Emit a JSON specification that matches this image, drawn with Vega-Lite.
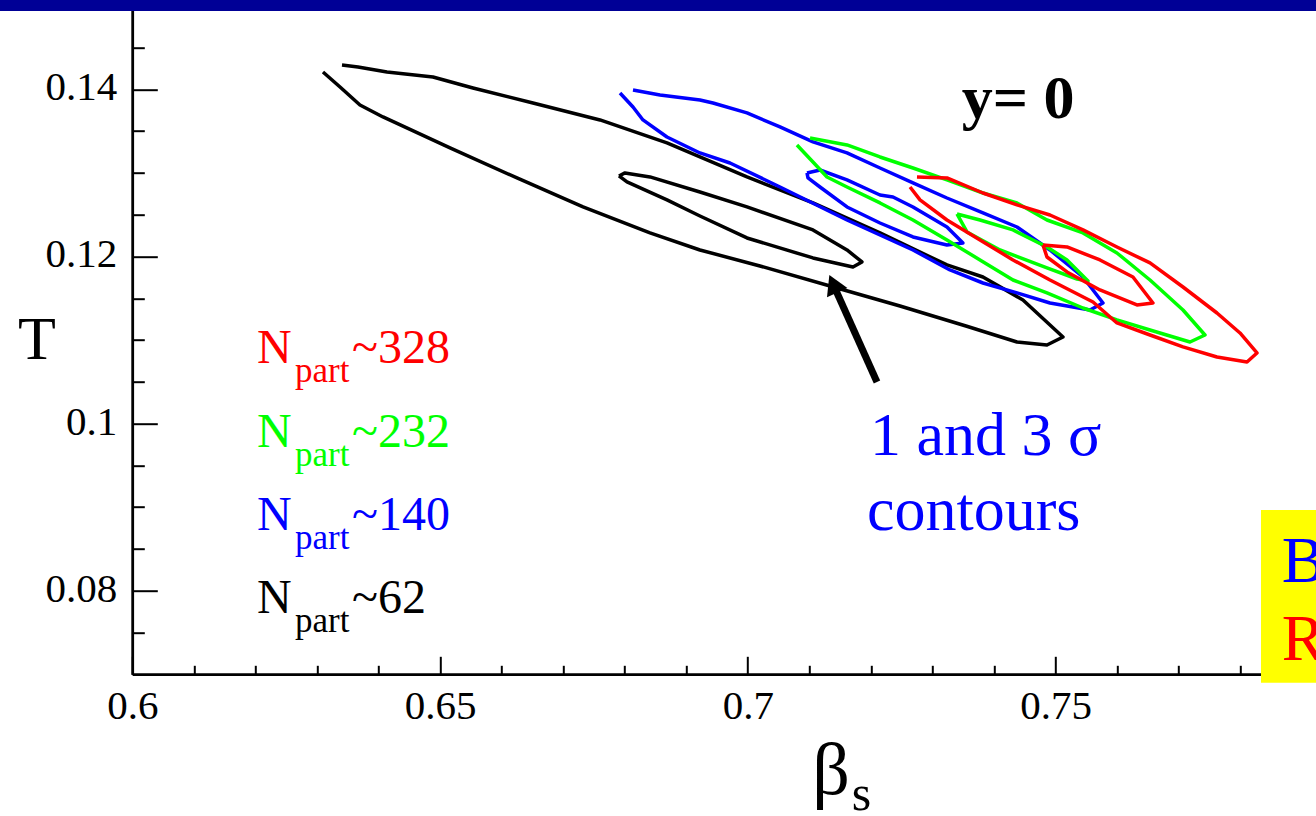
{
  "$schema": "https://vega.github.io/schema/vega-lite/v6.json",
  "width": 1183.7,
  "height": 668.6,
  "autosize": {"type": "none"},
  "padding": {"left": 132.3, "top": 5.7, "right": 0, "bottom": 141.7},
  "background": "white",
  "config": {
    "view": {"stroke": null},
    "font": "Liberation Serif",
    "axis": {
      "grid": false,
      "domainColor": "black",
      "domainWidth": 2.5,
      "tickColor": "black",
      "tickWidth": 2,
      "labelColor": "black",
      "labelFont": "Liberation Serif",
      "labelFontSize": 41,
      "titleFont": "Liberation Serif",
      "titleColor": "black",
      "titleFontWeight": "normal",
      "labelFlush": false,
      "labelOverlap": false,
      "labelBound": false
    }
  },
  "resolve": {"axis": {"x": "independent", "y": "independent"}},
  "datasets": {
    "contours": [
      {"k": "62o", "n": "62", "i": 0, "b": 0.63407, "T": 0.14291},
      {"k": "62o", "n": "62", "i": 1, "b": 0.63667, "T": 0.14267},
      {"k": "62o", "n": "62", "i": 2, "b": 0.64138, "T": 0.14207},
      {"k": "62o", "n": "62", "i": 3, "b": 0.64885, "T": 0.14147},
      {"k": "62o", "n": "62", "i": 4, "b": 0.65535, "T": 0.14016},
      {"k": "62o", "n": "62", "i": 5, "b": 0.66510, "T": 0.13836},
      {"k": "62o", "n": "62", "i": 6, "b": 0.67599, "T": 0.13633},
      {"k": "62o", "n": "62", "i": 7, "b": 0.68687, "T": 0.13358},
      {"k": "62o", "n": "62", "i": 8, "b": 0.69987, "T": 0.12951},
      {"k": "62o", "n": "62", "i": 9, "b": 0.71059, "T": 0.12640},
      {"k": "62o", "n": "62", "i": 10, "b": 0.72148, "T": 0.12281},
      {"k": "62o", "n": "62", "i": 11, "b": 0.73236, "T": 0.11898},
      {"k": "62o", "n": "62", "i": 12, "b": 0.73821, "T": 0.11754},
      {"k": "62o", "n": "62", "i": 13, "b": 0.74471, "T": 0.11479},
      {"k": "62o", "n": "62", "i": 14, "b": 0.75121, "T": 0.11036},
      {"k": "62o", "n": "62", "i": 15, "b": 0.74861, "T": 0.10940},
      {"k": "62o", "n": "62", "i": 16, "b": 0.74374, "T": 0.10976},
      {"k": "62o", "n": "62", "i": 17, "b": 0.73545, "T": 0.11168},
      {"k": "62o", "n": "62", "i": 18, "b": 0.72473, "T": 0.11407},
      {"k": "62o", "n": "62", "i": 19, "b": 0.71336, "T": 0.11646},
      {"k": "62o", "n": "62", "i": 20, "b": 0.70198, "T": 0.11886},
      {"k": "62o", "n": "62", "i": 21, "b": 0.69223, "T": 0.12077},
      {"k": "62o", "n": "62", "i": 22, "b": 0.68411, "T": 0.12281},
      {"k": "62o", "n": "62", "i": 23, "b": 0.67323, "T": 0.12592},
      {"k": "62o", "n": "62", "i": 24, "b": 0.66250, "T": 0.12939},
      {"k": "62o", "n": "62", "i": 25, "b": 0.65162, "T": 0.13298},
      {"k": "62o", "n": "62", "i": 26, "b": 0.64073, "T": 0.13669},
      {"k": "62o", "n": "62", "i": 27, "b": 0.63699, "T": 0.13812},
      {"k": "62o", "n": "62", "i": 28, "b": 0.63375, "T": 0.14028},
      {"k": "62o", "n": "62", "i": 29, "b": 0.63098, "T": 0.14207},

      {"k": "62i", "n": "62", "i": 0, "b": 0.67907, "T": 0.12963},
      {"k": "62i", "n": "62", "i": 1, "b": 0.68005, "T": 0.12999},
      {"k": "62i", "n": "62", "i": 2, "b": 0.68411, "T": 0.12951},
      {"k": "62i", "n": "62", "i": 3, "b": 0.69223, "T": 0.12771},
      {"k": "62i", "n": "62", "i": 4, "b": 0.69987, "T": 0.12592},
      {"k": "62i", "n": "62", "i": 5, "b": 0.71059, "T": 0.12317},
      {"k": "62i", "n": "62", "i": 6, "b": 0.71612, "T": 0.12077},
      {"k": "62i", "n": "62", "i": 7, "b": 0.71855, "T": 0.11934},
      {"k": "62i", "n": "62", "i": 8, "b": 0.71709, "T": 0.11874},
      {"k": "62i", "n": "62", "i": 9, "b": 0.71059, "T": 0.11982},
      {"k": "62i", "n": "62", "i": 10, "b": 0.69987, "T": 0.12221},
      {"k": "62i", "n": "62", "i": 11, "b": 0.69223, "T": 0.12484},
      {"k": "62i", "n": "62", "i": 12, "b": 0.68687, "T": 0.12676},
      {"k": "62i", "n": "62", "i": 13, "b": 0.68037, "T": 0.12891},
      {"k": "62i", "n": "62", "i": 14, "b": 0.67907, "T": 0.12963},

      {"k": "140o", "n": "140", "i": 0, "b": 0.68135, "T": 0.13992},
      {"k": "140o", "n": "140", "i": 1, "b": 0.68574, "T": 0.13932},
      {"k": "140o", "n": "140", "i": 2, "b": 0.69223, "T": 0.13872},
      {"k": "140o", "n": "140", "i": 3, "b": 0.69435, "T": 0.13836},
      {"k": "140o", "n": "140", "i": 4, "b": 0.69987, "T": 0.13717},
      {"k": "140o", "n": "140", "i": 5, "b": 0.70523, "T": 0.13549},
      {"k": "140o", "n": "140", "i": 6, "b": 0.71059, "T": 0.13370},
      {"k": "140o", "n": "140", "i": 7, "b": 0.71612, "T": 0.13238},
      {"k": "140o", "n": "140", "i": 8, "b": 0.72148, "T": 0.13058},
      {"k": "140o", "n": "140", "i": 9, "b": 0.72684, "T": 0.12879},
      {"k": "140o", "n": "140", "i": 10, "b": 0.73236, "T": 0.12699},
      {"k": "140o", "n": "140", "i": 11, "b": 0.73821, "T": 0.12520},
      {"k": "140o", "n": "140", "i": 12, "b": 0.74374, "T": 0.12352},
      {"k": "140o", "n": "140", "i": 13, "b": 0.74910, "T": 0.12077},
      {"k": "140o", "n": "140", "i": 14, "b": 0.75446, "T": 0.11754},
      {"k": "140o", "n": "140", "i": 15, "b": 0.75771, "T": 0.11443},
      {"k": "140o", "n": "140", "i": 16, "b": 0.75560, "T": 0.11359},
      {"k": "140o", "n": "140", "i": 17, "b": 0.74910, "T": 0.11443},
      {"k": "140o", "n": "140", "i": 18, "b": 0.74374, "T": 0.11563},
      {"k": "140o", "n": "140", "i": 19, "b": 0.73821, "T": 0.11682},
      {"k": "140o", "n": "140", "i": 20, "b": 0.73285, "T": 0.11838},
      {"k": "140o", "n": "140", "i": 21, "b": 0.72684, "T": 0.12077},
      {"k": "140o", "n": "140", "i": 22, "b": 0.71612, "T": 0.12436},
      {"k": "140o", "n": "140", "i": 23, "b": 0.70523, "T": 0.12831},
      {"k": "140o", "n": "140", "i": 24, "b": 0.69711, "T": 0.13118},
      {"k": "140o", "n": "140", "i": 25, "b": 0.69223, "T": 0.13238},
      {"k": "140o", "n": "140", "i": 26, "b": 0.68687, "T": 0.13429},
      {"k": "140o", "n": "140", "i": 27, "b": 0.68297, "T": 0.13633},
      {"k": "140o", "n": "140", "i": 28, "b": 0.68135, "T": 0.13788},
      {"k": "140o", "n": "140", "i": 29, "b": 0.67924, "T": 0.13956},

      {"k": "140i", "n": "140", "i": 0, "b": 0.70962, "T": 0.12999},
      {"k": "140i", "n": "140", "i": 1, "b": 0.71173, "T": 0.13034},
      {"k": "140i", "n": "140", "i": 2, "b": 0.71612, "T": 0.12915},
      {"k": "140i", "n": "140", "i": 3, "b": 0.72148, "T": 0.12735},
      {"k": "140i", "n": "140", "i": 4, "b": 0.72359, "T": 0.12711},
      {"k": "140i", "n": "140", "i": 5, "b": 0.72684, "T": 0.12592},
      {"k": "140i", "n": "140", "i": 6, "b": 0.73236, "T": 0.12352},
      {"k": "140i", "n": "140", "i": 7, "b": 0.73496, "T": 0.12161},
      {"k": "140i", "n": "140", "i": 8, "b": 0.73236, "T": 0.12137},
      {"k": "140i", "n": "140", "i": 9, "b": 0.72684, "T": 0.12233},
      {"k": "140i", "n": "140", "i": 10, "b": 0.72148, "T": 0.12400},
      {"k": "140i", "n": "140", "i": 11, "b": 0.71612, "T": 0.12592},
      {"k": "140i", "n": "140", "i": 12, "b": 0.71173, "T": 0.12831},
      {"k": "140i", "n": "140", "i": 13, "b": 0.70978, "T": 0.12939},
      {"k": "140i", "n": "140", "i": 14, "b": 0.70962, "T": 0.12999},

      {"k": "232o", "n": "232", "i": 0, "b": 0.71011, "T": 0.13417},
      {"k": "232o", "n": "232", "i": 1, "b": 0.71612, "T": 0.13334},
      {"k": "232o", "n": "232", "i": 2, "b": 0.72148, "T": 0.13190},
      {"k": "232o", "n": "232", "i": 3, "b": 0.72684, "T": 0.13058},
      {"k": "232o", "n": "232", "i": 4, "b": 0.73236, "T": 0.12915},
      {"k": "232o", "n": "232", "i": 5, "b": 0.73821, "T": 0.12759},
      {"k": "232o", "n": "232", "i": 6, "b": 0.74374, "T": 0.12640},
      {"k": "232o", "n": "232", "i": 7, "b": 0.74861, "T": 0.12436},
      {"k": "232o", "n": "232", "i": 8, "b": 0.75446, "T": 0.12281},
      {"k": "232o", "n": "232", "i": 9, "b": 0.75998, "T": 0.12041},
      {"k": "232o", "n": "232", "i": 10, "b": 0.76535, "T": 0.11718},
      {"k": "232o", "n": "232", "i": 11, "b": 0.77071, "T": 0.11359},
      {"k": "232o", "n": "232", "i": 12, "b": 0.77428, "T": 0.11060},
      {"k": "232o", "n": "232", "i": 13, "b": 0.77185, "T": 0.10976},
      {"k": "232o", "n": "232", "i": 14, "b": 0.76535, "T": 0.11120},
      {"k": "232o", "n": "232", "i": 15, "b": 0.75998, "T": 0.11240},
      {"k": "232o", "n": "232", "i": 16, "b": 0.75446, "T": 0.11383},
      {"k": "232o", "n": "232", "i": 17, "b": 0.74861, "T": 0.11563},
      {"k": "232o", "n": "232", "i": 18, "b": 0.74309, "T": 0.11718},
      {"k": "232o", "n": "232", "i": 19, "b": 0.73773, "T": 0.11958},
      {"k": "232o", "n": "232", "i": 20, "b": 0.73236, "T": 0.12197},
      {"k": "232o", "n": "232", "i": 21, "b": 0.72684, "T": 0.12436},
      {"k": "232o", "n": "232", "i": 22, "b": 0.72148, "T": 0.12640},
      {"k": "232o", "n": "232", "i": 23, "b": 0.71612, "T": 0.12831},
      {"k": "232o", "n": "232", "i": 24, "b": 0.71287, "T": 0.12951},
      {"k": "232o", "n": "232", "i": 25, "b": 0.71059, "T": 0.13130},
      {"k": "232o", "n": "232", "i": 26, "b": 0.70799, "T": 0.13334},

      {"k": "232i", "n": "232", "i": 0, "b": 0.73399, "T": 0.12508},
      {"k": "232i", "n": "232", "i": 1, "b": 0.73773, "T": 0.12436},
      {"k": "232i", "n": "232", "i": 2, "b": 0.74309, "T": 0.12317},
      {"k": "232i", "n": "232", "i": 3, "b": 0.74861, "T": 0.12113},
      {"k": "232i", "n": "232", "i": 4, "b": 0.75186, "T": 0.11958},
      {"k": "232i", "n": "232", "i": 5, "b": 0.75527, "T": 0.11706},
      {"k": "232i", "n": "232", "i": 6, "b": 0.75349, "T": 0.11730},
      {"k": "232i", "n": "232", "i": 7, "b": 0.74861, "T": 0.11862},
      {"k": "232i", "n": "232", "i": 8, "b": 0.74098, "T": 0.12077},
      {"k": "232i", "n": "232", "i": 9, "b": 0.73561, "T": 0.12293},
      {"k": "232i", "n": "232", "i": 10, "b": 0.73399, "T": 0.12508},

      {"k": "328o", "n": "328", "i": 0, "b": 0.72749, "T": 0.12951},
      {"k": "328o", "n": "328", "i": 1, "b": 0.73236, "T": 0.12939},
      {"k": "328o", "n": "328", "i": 2, "b": 0.73821, "T": 0.12759},
      {"k": "328o", "n": "328", "i": 3, "b": 0.74374, "T": 0.12616},
      {"k": "328o", "n": "328", "i": 4, "b": 0.74910, "T": 0.12496},
      {"k": "328o", "n": "328", "i": 5, "b": 0.75446, "T": 0.12317},
      {"k": "328o", "n": "328", "i": 6, "b": 0.75998, "T": 0.12113},
      {"k": "328o", "n": "328", "i": 7, "b": 0.76535, "T": 0.11922},
      {"k": "328o", "n": "328", "i": 8, "b": 0.77071, "T": 0.11634},
      {"k": "328o", "n": "328", "i": 9, "b": 0.77623, "T": 0.11323},
      {"k": "328o", "n": "328", "i": 10, "b": 0.77997, "T": 0.11084},
      {"k": "328o", "n": "328", "i": 11, "b": 0.78273, "T": 0.10845},
      {"k": "328o", "n": "328", "i": 12, "b": 0.78111, "T": 0.10737},
      {"k": "328o", "n": "328", "i": 13, "b": 0.77623, "T": 0.10797},
      {"k": "328o", "n": "328", "i": 14, "b": 0.77071, "T": 0.10917},
      {"k": "328o", "n": "328", "i": 15, "b": 0.76535, "T": 0.11060},
      {"k": "328o", "n": "328", "i": 16, "b": 0.75998, "T": 0.11204},
      {"k": "328o", "n": "328", "i": 17, "b": 0.75609, "T": 0.11455},
      {"k": "328o", "n": "328", "i": 18, "b": 0.74910, "T": 0.11718},
      {"k": "328o", "n": "328", "i": 19, "b": 0.74309, "T": 0.11958},
      {"k": "328o", "n": "328", "i": 20, "b": 0.73773, "T": 0.12197},
      {"k": "328o", "n": "328", "i": 21, "b": 0.73236, "T": 0.12436},
      {"k": "328o", "n": "328", "i": 22, "b": 0.72798, "T": 0.12676},
      {"k": "328o", "n": "328", "i": 23, "b": 0.72636, "T": 0.12831},

      {"k": "328i", "n": "328", "i": 0, "b": 0.74796, "T": 0.12137},
      {"k": "328i", "n": "328", "i": 1, "b": 0.75186, "T": 0.12113},
      {"k": "328i", "n": "328", "i": 2, "b": 0.75722, "T": 0.11958},
      {"k": "328i", "n": "328", "i": 3, "b": 0.76258, "T": 0.11754},
      {"k": "328i", "n": "328", "i": 4, "b": 0.76583, "T": 0.11443},
      {"k": "328i", "n": "328", "i": 5, "b": 0.76323, "T": 0.11419},
      {"k": "328i", "n": "328", "i": 6, "b": 0.75722, "T": 0.11599},
      {"k": "328i", "n": "328", "i": 7, "b": 0.75186, "T": 0.11814},
      {"k": "328i", "n": "328", "i": 8, "b": 0.74861, "T": 0.11993},
      {"k": "328i", "n": "328", "i": 9, "b": 0.74796, "T": 0.12137}
    ],
    "legend": [
      {"n": "328", "t": "~328", "b": 0.62026, "T": 0.10721},
      {"n": "232", "t": "~232", "b": 0.62026, "T": 0.09723},
      {"n": "140", "t": "~140", "b": 0.62026, "T": 0.08727},
      {"n": "62", "t": "~62", "b": 0.62026, "T": 0.07730}
    ]
  },
  "encoding": {
    "x": {"field": "b", "type": "quantitative", "scale": {"domain": [0.6, 0.79232], "nice": false, "zero": false}, "axis": null},
    "y": {"field": "T", "type": "quantitative", "scale": {"domain": [0.07, 0.15], "nice": false, "zero": false}, "axis": null}
  },
  "layer": [
    {
      "description": "slide header band; also carries the minor tick axes",
      "data": {"values": [{"b": 0.57, "b2": 0.81, "T": 0.14937, "T2": 0.153}]},
      "mark": {"type": "rect", "color": "#000096", "clip": false},
      "encoding": {
        "x": {"field": "b", "type": "quantitative", "scale": {"domain": [0.6, 0.79232], "nice": false, "zero": false},
          "axis": {"orient": "bottom", "values": [0.61, 0.62, 0.63, 0.64, 0.66, 0.67, 0.68, 0.69, 0.71, 0.72, 0.73, 0.74, 0.76, 0.77, 0.78, 0.79], "tickSize": -9, "labels": false, "title": null}},
        "x2": {"field": "b2"},
        "y": {"field": "T", "type": "quantitative", "scale": {"domain": [0.07, 0.15], "nice": false, "zero": false},
          "axis": {"orient": "left", "values": [0.075, 0.085, 0.09, 0.095, 0.105, 0.11, 0.115, 0.125, 0.13, 0.135, 0.145], "tickSize": -12, "labels": false, "title": null}},
        "y2": {"field": "T2"}
      }
    },
    {
      "description": "1 and 3 sigma contours for each centrality class",
      "data": {"name": "contours"},
      "mark": {"type": "line", "strokeWidth": 3.5, "strokeJoin": "round"},
      "encoding": {
        "x": {"field": "b", "type": "quantitative", "scale": {"domain": [0.6, 0.79232], "nice": false, "zero": false},
          "axis": {"orient": "bottom", "values": [0.6, 0.65, 0.7, 0.75], "format": "~g", "tickSize": -18, "labelPadding": 30.3,
            "title": "β", "titleFontSize": 74, "titleX": 679.4, "titleY": 119.2, "titleAlign": "left", "titleBaseline": "alphabetic"}},
        "y": {"field": "T", "type": "quantitative", "scale": {"domain": [0.07, 0.15], "nice": false, "zero": false},
          "axis": {"orient": "left", "values": [0.08, 0.1, 0.12, 0.14], "format": "~g", "tickSize": -25, "labelPadding": 40.6, "labelOffset": -1.5,
            "title": "T", "titleAngle": 0, "titleFontSize": 62, "titleX": -95.8, "titleY": 352.3, "titleAlign": "center", "titleBaseline": "alphabetic"}},
        "color": {"field": "n", "type": "nominal", "scale": {"domain": ["62", "140", "232", "328"], "range": ["#000000", "#0000ff", "#00ff00", "#ff0000"]}, "legend": null},
        "detail": {"field": "k"},
        "order": {"field": "i", "type": "quantitative"}
      }
    },
    {
      "description": "arrow shaft",
      "data": {"values": [{"b": 0.72099, "T": 0.10498, "b2": 0.71400, "T2": 0.11646}]},
      "mark": {"type": "rule", "color": "black", "strokeWidth": 7},
      "encoding": {"x2": {"field": "b2"}, "y2": {"field": "T2"}}
    },
    {
      "description": "arrow head",
      "data": {"values": [{"b": 0.71389, "T": 0.11673}]},
      "mark": {"type": "point", "shape": "triangle-up", "filled": true, "color": "black", "size": 500, "angle": 336, "opacity": 1}
    },
    {
      "data": {"name": "legend"},
      "mark": {"type": "text", "align": "left", "baseline": "alphabetic", "font": "Liberation Serif", "fontSize": 48},
      "encoding": {
        "text": {"value": "N"},
        "color": {"field": "n", "type": "nominal", "scale": {"domain": ["62", "140", "232", "328"], "range": ["#000000", "#0000ff", "#00ff00", "#ff0000"]}, "legend": null}
      }
    },
    {
      "data": {"name": "legend"},
      "mark": {"type": "text", "align": "left", "baseline": "alphabetic", "font": "Liberation Serif", "fontSize": 35, "dx": 38, "dy": 19},
      "encoding": {
        "text": {"value": "part"},
        "color": {"field": "n", "type": "nominal", "scale": {"domain": ["62", "140", "232", "328"], "range": ["#000000", "#0000ff", "#00ff00", "#ff0000"]}, "legend": null}
      }
    },
    {
      "data": {"name": "legend"},
      "mark": {"type": "text", "align": "left", "baseline": "alphabetic", "font": "Liberation Serif", "fontSize": 48, "dx": 95},
      "encoding": {
        "text": {"field": "t"},
        "color": {"field": "n", "type": "nominal", "scale": {"domain": ["62", "140", "232", "328"], "range": ["#000000", "#0000ff", "#00ff00", "#ff0000"]}, "legend": null}
      }
    },
    {
      "data": {"values": [{"t": "y= 0", "b": 0.73475, "T": 0.13653}]},
      "mark": {"type": "text", "align": "left", "baseline": "alphabetic", "font": "Liberation Serif", "fontSize": 62, "fontWeight": "bold", "color": "black"},
      "encoding": {"text": {"field": "t"}}
    },
    {
      "data": {"values": [{"t": "1 and 3 σ", "b": 0.71985, "T": 0.09624}, {"t": "contours", "b": 0.71936, "T": 0.08727}]},
      "mark": {"type": "text", "align": "left", "baseline": "alphabetic", "font": "Liberation Serif", "fontSize": 62, "color": "#0000ff"},
      "encoding": {"text": {"field": "t"}}
    },
    {
      "data": {"values": [{"b": 0.78338, "b2": 0.81, "T": 0.06899, "T2": 0.08966}]},
      "mark": {"type": "rect", "color": "#ffff00", "clip": false},
      "encoding": {"x2": {"field": "b2"}, "y2": {"field": "T2"}}
    },
    {
      "data": {"values": [{"t": "B", "b": 0.78674, "T": 0.08108}]},
      "mark": {"type": "text", "align": "left", "baseline": "alphabetic", "font": "Liberation Serif", "fontSize": 65, "color": "#0000ff", "clip": false},
      "encoding": {"text": {"field": "t"}}
    },
    {
      "data": {"values": [{"t": "R", "b": 0.78674, "T": 0.07171}]},
      "mark": {"type": "text", "align": "left", "baseline": "alphabetic", "font": "Liberation Serif", "fontSize": 65, "color": "#ff0000", "clip": false},
      "encoding": {"text": {"field": "t"}}
    },
    {
      "description": "subscript of the x axis title",
      "data": {"values": [{"t": "s", "b": 0.71688, "T": 0.05376}]},
      "mark": {"type": "text", "align": "left", "baseline": "alphabetic", "font": "Liberation Serif", "fontSize": 50, "color": "black", "clip": false},
      "encoding": {"text": {"field": "t"}}
    }
  ]
}
